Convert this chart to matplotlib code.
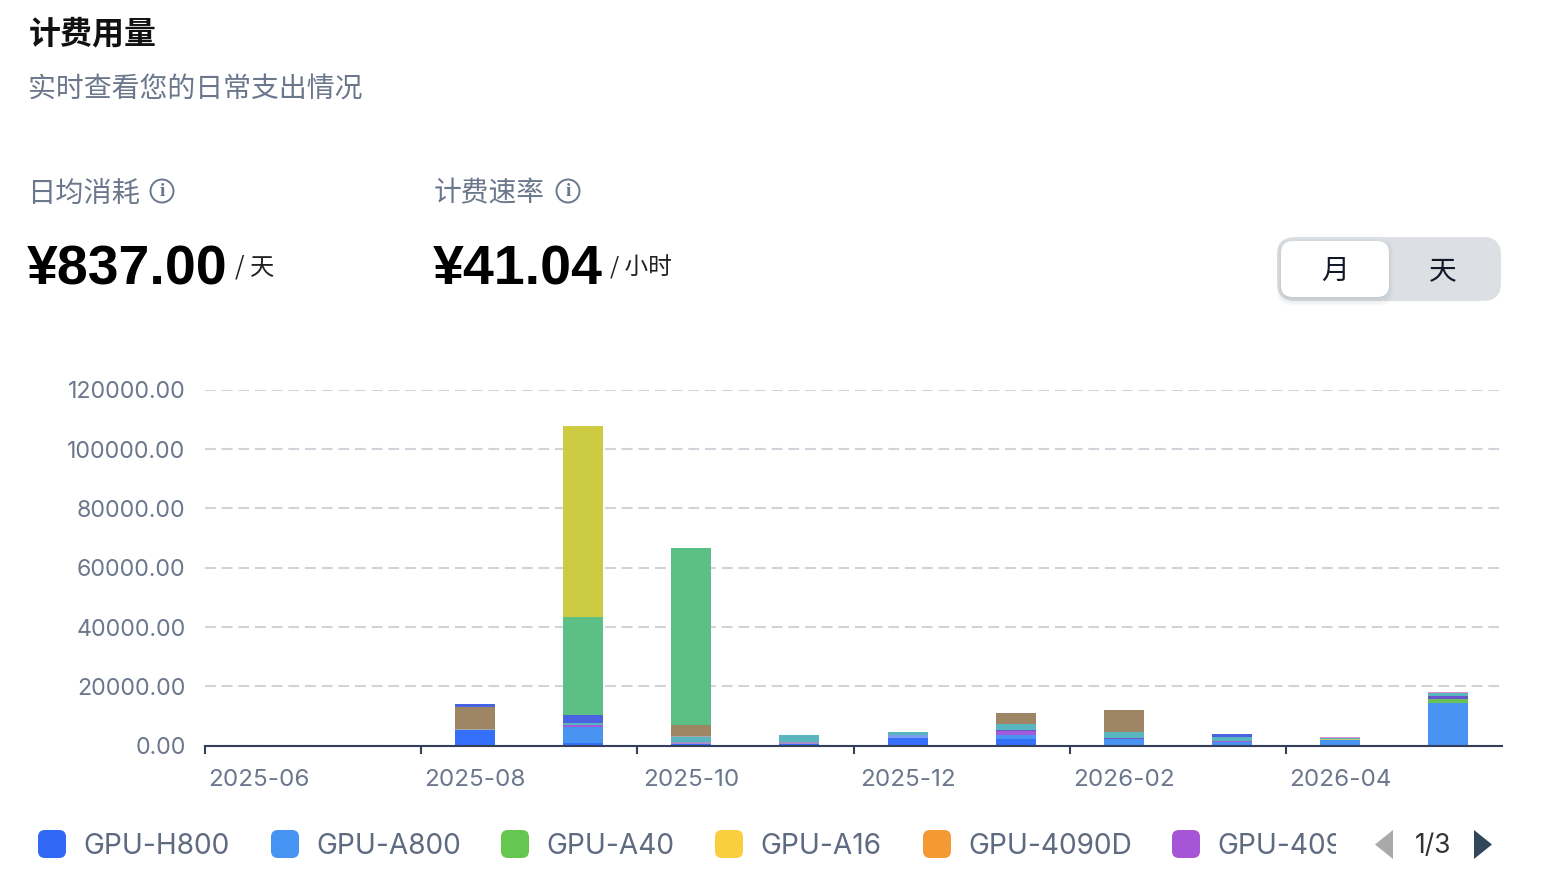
import matplotlib
matplotlib.use("Agg")
import matplotlib.pyplot as plt
from matplotlib.patches import FancyBboxPatch, Rectangle, Circle, Polygon

# ---------- data ----------
months = ["2025-06", "2025-07", "2025-08", "2025-09", "2025-10", "2025-11",
          "2025-12", "2026-01", "2026-02", "2026-03", "2026-04", "2026-05"]
y_ticks = [0, 20000, 40000, 60000, 80000, 100000, 120000]

gpu_h800 = [0, 0, 5300, 800, 500, 500, 2600, 2200, 0, 0, 0, 0]
gpu_a800 = [0, 0, 0, 5400, 0, 0, 0, 1500, 2100, 1200, 1900, 14500]
gpu_a40 = [0, 0, 0, 0, 0, 0, 0, 0, 0, 0, 0, 1100]
gpu_a16 = [0, 0, 0, 0, 0, 0, 0, 0, 0, 0, 400, 0]
gpu_mauve = [0, 0, 0, 0, 800, 600, 0, 0, 0, 0, 0, 0]
gpu_4090 = [0, 0, 0, 700, 0, 0, 0, 1100, 0, 500, 0, 0]
gpu_peri = [0, 0, 0, 0, 0, 0, 1000, 0, 0, 0, 0, 0]
gpu_indigo = [0, 0, 0, 0, 0, 0, 0, 400, 400, 0, 0, 1100]
gpu_teal = [0, 0, 0, 900, 1800, 2600, 900, 2000, 2100, 1300, 400, 900]
gpu_grey = [0, 0, 400, 0, 300, 0, 0, 0, 0, 0, 0, 0]
gpu_brown = [0, 0, 7400, 0, 3600, 0, 0, 3800, 7400, 0, 0, 0]
gpu_indigo2 = [0, 0, 1000, 2400, 0, 0, 0, 0, 0, 800, 0, 0]
gpu_green2 = [0, 0, 0, 33300, 59700, 0, 0, 0, 0, 0, 0, 0]
gpu_olive = [0, 0, 0, 64400, 0, 0, 0, 0, 0, 0, 0, 0]
gpu_pink = [0, 0, 0, 0, 0, 0, 0, 0, 0, 0, 400, 450]

stack = [
    (gpu_h800, "#3570FA"), (gpu_a800, "#4794F2"), (gpu_a40, "#68C257"),
    (gpu_a16, "#B9C777"), (gpu_mauve, "#A98FC9"), (gpu_4090, "#A35AD8"),
    (gpu_peri, "#7F9DF0"), (gpu_indigo, "#6A55CC"), (gpu_teal, "#59B5BE"),
    (gpu_grey, "#A9A9A9"), (gpu_brown, "#9E8563"), (gpu_indigo2, "#4A63E2"),
    (gpu_green2, "#5CBF84"), (gpu_olive, "#CDCB42"), (gpu_pink, "#D78FC8"),
]

legend_names = ["GPU-H800", "GPU-A800", "GPU-A40", "GPU-A16", "GPU-4090D", "GPU-4090"]
legend_colors = ["#3268F6", "#4593F3", "#65C650", "#F9CE3F", "#F39A35", "#A655D6"]

# ---------- figure ----------
W, H = 1554, 872
CJK = ["Noto Sans CJK SC", "DejaVu Sans"]
LAT = ["Inter", "DejaVu Sans"]
plt.rcParams["font.family"] = CJK
fig = plt.figure(figsize=(W / 100, H / 100), dpi=100, facecolor="white")

# chart axes
L, R, T, B = 205, 1502, 389.7, 745.7
ax = fig.add_axes([L / W, 1 - B / H, (R - L) / W, (B - T) / H])
ax.set_xlim(-0.5, 11.5)
ax.set_ylim(0, 120000)
bottom = [0] * len(months)
xs = list(range(len(months)))
for vals, col in stack:
    ax.bar(xs, vals, width=0.37, bottom=bottom, color=col, linewidth=0, zorder=3)
    bottom = [a + b for a, b in zip(bottom, vals)]

for s in ["top", "right", "left"]:
    ax.spines[s].set_visible(False)
ax.spines["bottom"].set_color("#333F5B")
ax.spines["bottom"].set_linewidth(1.5)
ax.spines["bottom"].set_zorder(5)
ax.set_yticks(y_ticks)
ax.set_yticklabels([f"{v:.2f}" for v in y_ticks], fontfamily=LAT, fontsize=16.7,
                   color="#6B778C")
ax.tick_params(axis="y", length=0, pad=14)
ax.yaxis.grid(True, color="#CFD4DA", linewidth=1.5, linestyle=(0, (5.2, 2.8)), zorder=0)
ax.set_axisbelow(True)
ax.set_xticks([i - 0.5 for i in range(0, 12, 2)])
ax.set_xticklabels([])
ax.tick_params(axis="x", which="major", length=6, width=1.5, color="#333F5B")
ax.set_xticks(list(range(0, 12, 2)), minor=True)
ax.set_xticklabels(months[::2], minor=True, fontfamily=LAT, fontsize=17.4, color="#6B778C")
ax.tick_params(axis="x", which="minor", length=0, pad=17)

# pixel overlay for the page furniture
ov = fig.add_axes([0, 0, 1, 1], zorder=10)
ov.set_xlim(0, W)
ov.set_ylim(H, 0)
ov.axis("off")
ov.patch.set_alpha(0)

ov.text(29, 34, "计费用量", fontsize=23, fontweight="bold", color="#111111", va="center")
ov.text(28.5, 90, "实时查看您的日常支出情况", fontsize=20.1, color="#6B778C", va="center")


def info(cx, cy):
    ov.add_patch(Circle((cx, cy), 11.5, fill=False, ec="#6B778C", lw=1.4))
    ov.text(cx, cy + 0.5, "i", fontsize=14, color="#6B778C", ha="center", va="center",
            fontfamily=["Liberation Serif"], fontweight="bold")


ov.text(27.5, 193.5, "日均消耗", fontsize=20.3, color="#6B778C", va="center")
info(162, 191)
ov.text(433.5, 193.5, "计费速率", fontsize=20, color="#6B778C", va="center")
info(568, 191)

NUM = ["Liberation Sans"]
ov.text(27, 270, "¥837.00", fontsize=40, fontweight="bold", color="black", va="center",
        fontfamily=NUM)
ov.text(235, 267, "/ 天", fontsize=17.5, color="#222222", va="center")
ov.text(433, 270, "¥41.04", fontsize=40, fontweight="bold", color="black", va="center",
        fontfamily=NUM)
ov.text(610, 267, "/ 小时", fontsize=17, color="#222222", va="center")


def rrect(x0, y0, x1, y1, r, **kw):
    p = FancyBboxPatch((x0 + r, y0 + r), x1 - x0 - 2 * r, y1 - y0 - 2 * r,
                       boxstyle=f"round,pad={r},rounding_size={r}", **kw)
    ov.add_patch(p)


rrect(1277, 237, 1501, 301, 18, fc="#DCE0E4", ec="none")
for i in range(5):
    rrect(1281 - i, 243 - i, 1389 + i, 299 + i * 1.6, 14, fc="#8A93A0", ec="none", alpha=0.05)
rrect(1281, 241, 1389, 297, 12, fc="white", ec="none")
ov.text(1335, 271, "月", fontsize=20, color="#111827", ha="center", va="center")
ov.text(1443, 271, "天", fontsize=20, color="#111827", ha="center", va="center")

# legend
swatch_x = [38, 271, 501, 715, 923, 1172]
clip = Rectangle((0, 800), 1336, 72, transform=ov.transData)
for x, name, col in zip(swatch_x, legend_names, legend_colors):
    rrect(x, 830, x + 28, 858, 7, fc=col, ec="none")
    t = ov.text(x + 45, 846, name, fontsize=20.2, fontfamily=LAT, color="#5F6B80",
                va="center", clip_on=True)
    t.set_clip_path(clip)

ov.add_patch(Polygon([(1393, 830), (1393, 859), (1375, 844.5)], fc="#A9A9A9", ec="none"))
ov.add_patch(Polygon([(1474, 830), (1474, 859), (1492, 844.5)], fc="#30475C", ec="none"))
ov.text(1433, 846, "1/3", fontsize=19, fontfamily=LAT, color="#333333", ha="center", va="center")

fig.savefig("out.png", dpi=100, facecolor="white")
